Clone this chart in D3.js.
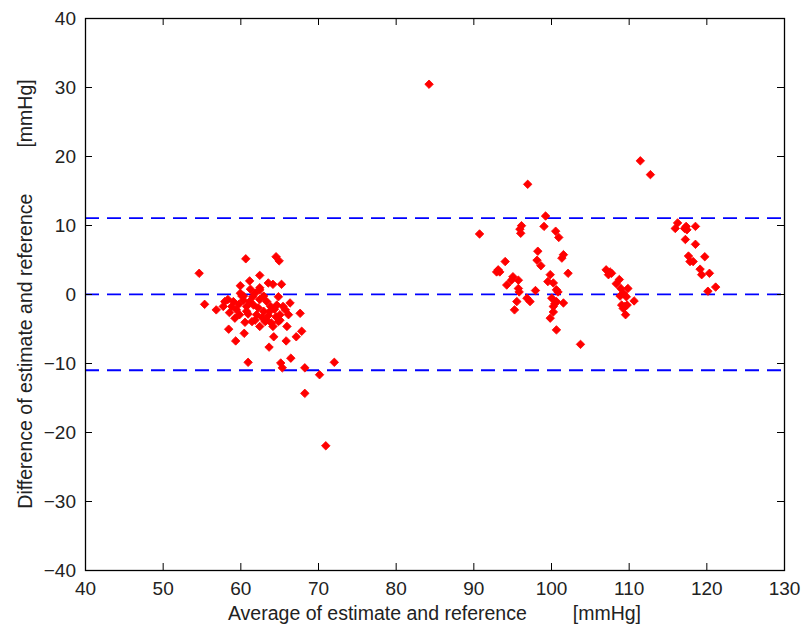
<!DOCTYPE html>
<html>
<head>
<meta charset="utf-8">
<script src="https://cdn.jsdelivr.net/npm/d3@7"></script>
<style>
  body { margin: 0; background: #fff; }
  text { font-family: "Liberation Sans", Arial, sans-serif; fill: #222; }
</style>
</head>
<body>
<svg id="chart" width="806" height="633"></svg>
<script>
// Bland-Altman data: [average, difference] in mmHg
var lowGroup = [
  [54.7, 3.0], [55.4, -1.5], [56.9, -2.3], [60.7, 5.1], [64.6, 5.4], [65.0, 4.8],
  [62.5, 2.7], [61.2, 1.9], [60.0, 1.2], [63.6, 1.6], [64.2, 1.4], [65.3, 1.4],
  [58.4, -0.8], [57.8, -1.8], [59.1, -1.1], [59.5, -2.3], [59.3, -3.5], [60.4, -0.3],
  [61.2, -1.1], [60.8, -2.5], [61.7, -1.6], [62.1, -3.0], [61.5, -4.0], [62.5, -0.8],
  [63.4, -1.1], [63.0, -2.5], [63.8, -2.5], [63.2, -4.0], [64.0, -4.2], [62.5, -4.7],
  [64.7, -1.6], [65.5, -1.8], [66.4, -1.3], [65.1, -3.0], [66.2, -3.0], [64.9, -4.0],
  [67.7, -2.8], [60.0, 0.1], [60.2, -0.3], [61.9, 0.1], [58.0, -1.1], [62.5, 0.9],
  [62.5, 0.6], [64.9, -0.4], [58.9, -1.8], [61.9, -3.8], [63.4, -3.8], [64.2, -4.7],
  [65.1, -3.8], [66.0, -4.7], [60.4, -0.9], [60.8, -1.8],
  [59.8, -1.5], [61.0, -2.9], [62.3, -2.0], [63.0, -0.3], [63.6, -3.1], [64.4, -2.2],
  [61.6, -0.4], [59.9, -3.0], [62.8, -3.4], [64.6, -3.3], [65.8, -2.3], [60.6, -4.1],
  [58.6, -2.7], [61.3, 0.7], [63.9, -1.8],
  [58.5, -5.1], [60.5, -5.7], [59.4, -6.8], [64.3, -6.2], [65.9, -6.8], [67.2, -6.2],
  [67.9, -5.4], [63.7, -7.7], [61.0, -9.9], [65.2, -10.0], [65.4, -10.7], [66.5, -9.3],
  [68.3, -10.7], [72.1, -9.9], [70.2, -11.7], [68.3, -14.4], [71.0, -22.0]
];

var midGroup = [
  [84.3, 30.4], [97.0, 15.9], [99.3, 11.3], [99.1, 9.8], [96.2, 9.9], [96.0, 9.4],
  [96.1, 8.8], [90.8, 8.7], [100.6, 9.1], [101.0, 8.2], [98.3, 6.2], [98.2, 4.9],
  [98.7, 4.1], [101.6, 5.7], [101.4, 5.2], [94.1, 4.7], [93.2, 3.5], [93.0, 3.2],
  [93.4, 3.2], [102.2, 3.0], [95.1, 2.5], [94.9, 2.0], [95.8, 2.0], [94.3, 1.3],
  [98.0, 0.5], [99.9, 2.8], [99.6, 1.8], [100.3, 1.6], [95.8, 0.8], [95.9, 0.3],
  [100.7, 0.6], [100.9, 0.3], [96.9, -0.6], [97.3, -1.1], [95.6, -1.1], [95.3, -2.3],
  [100.1, -0.6], [100.5, -1.4], [100.3, -1.8], [100.7, -1.1], [101.6, -1.3],
  [100.3, -2.6], [99.9, -3.5], [100.7, -5.2], [103.8, -7.3]
];

var highGroup = [
  [111.5, 19.3], [112.8, 17.3],
  [107.1, 3.5], [107.6, 3.2], [107.4, 2.8], [107.8, 3.0], [108.8, 2.1], [108.4, 1.5],
  [109.0, 0.8], [109.9, 0.8], [109.3, 0.1], [109.7, -0.4], [108.9, -0.3], [110.7, -1.0],
  [109.1, -1.6], [109.5, -1.8], [109.8, -1.6], [109.3, -2.1], [109.6, -3.0],
  [116.3, 10.3], [116.0, 9.5], [117.4, 9.8], [117.5, 9.3], [117.2, 9.5], [118.6, 9.8],
  [117.3, 7.9], [118.6, 7.2], [117.7, 5.5], [117.9, 4.7], [118.3, 4.7], [119.8, 5.4],
  [119.2, 3.6], [119.4, 2.8], [120.4, 3.0], [120.2, 0.4], [121.2, 1.0]
];

// mean difference and limits of agreement
var refLines = [-0.05, 11.0, -11.05];

var xTicks = [40, 50, 60, 70, 80, 90, 100, 110, 120, 130];
var yTicks = [-40, -30, -20, -10, 0, 10, 20, 30, 40];

var margin = { top: 18, right: 22, bottom: 63, left: 85 },
    width = 806 - margin.left - margin.right,
    height = 633 - margin.top - margin.bottom;

var svg = d3.select('#chart')
  .append('g')
    .attr('transform', 'translate(' + margin.left + ',' + margin.top + ')');

var x = d3.scaleLinear().domain([40, 130]).range([0, width]);
var y = d3.scaleLinear().domain([-40, 40]).range([height, 0]);

// reference lines go under the points
svg.selectAll('.ref-line')
  .data(refLines)
  .enter()
  .append('line')
    .attr('class', 'ref-line')
    .attr('x1', 0)
    .attr('x2', width)
    .attr('y1', function (d) { return y(d); })
    .attr('y2', function (d) { return y(d); })
    .style('stroke', '#0000ff')
    .style('stroke-width', 1.8)
    .style('stroke-dasharray', '14,8');

var points = lowGroup.concat(midGroup, highGroup);
var marker = d3.symbol().type(d3.symbolSquare).size(36);

svg.selectAll('.pt')
  .data(points)
  .enter()
  .append('path')
    .attr('class', 'pt')
    .attr('d', marker)
    .attr('transform', function (d) {
      return 'translate(' + x(d[0]) + ',' + y(d[1]) + ')rotate(45)';
    })
    .style('fill', '#ff0000')
    .style('stroke', '#ff0000')
    .style('stroke-width', 0.8);

// axes: ticks point inwards on all four sides, labels only bottom/left
function styleAxis(g) {
  g.select('.domain').remove();
  g.selectAll('.tick line').style('stroke', '#000');
  g.selectAll('text')
    .style('font-size', '19px')
    .style('font-family', '"Liberation Sans", Arial, sans-serif')
    .style('fill', '#222');
}

svg.append('g')
  .attr('transform', 'translate(0,' + height + ')')
  .call(d3.axisBottom(x).tickValues(xTicks).tickSizeInner(-7).tickSizeOuter(0).tickPadding(12))
  .call(styleAxis);

svg.append('g')
  .call(d3.axisTop(x).tickValues(xTicks).tickSizeInner(-7).tickSizeOuter(0).tickFormat(''))
  .call(styleAxis);

svg.append('g')
  .call(d3.axisLeft(y).tickValues(yTicks).tickSizeInner(-7).tickSizeOuter(0).tickPadding(9))
  .call(styleAxis);

svg.append('g')
  .attr('transform', 'translate(' + width + ',0)')
  .call(d3.axisRight(y).tickValues(yTicks).tickSizeInner(-7).tickSizeOuter(0).tickFormat(''))
  .call(styleAxis);

// box round the plot
svg.append('rect')
  .attr('x', 0.5)
  .attr('y', 0.5)
  .attr('width', width)
  .attr('height', height)
  .style('fill', 'none')
  .style('stroke', '#000')
  .style('stroke-width', 1.3);

// axis titles
var xTitle = svg.append('text')
  .attr('x', width / 2)
  .attr('y', height + 50)
  .style('text-anchor', 'middle')
  .style('font-size', '19.5px');
xTitle.append('tspan').text('Average of estimate and reference');
xTitle.append('tspan').attr('dx', 46).text('[mmHg]');

var yTitle = svg.append('text')
  .attr('transform', 'translate(' + (32 - margin.left) + ',' + (height / 2) + ')rotate(-90)')
  .style('text-anchor', 'middle')
  .style('font-size', '19.5px');
yTitle.append('tspan').text('Difference of estimate and reference');
yTitle.append('tspan').attr('dx', 46).text('[mmHg]');
</script>
</body>
</html>
